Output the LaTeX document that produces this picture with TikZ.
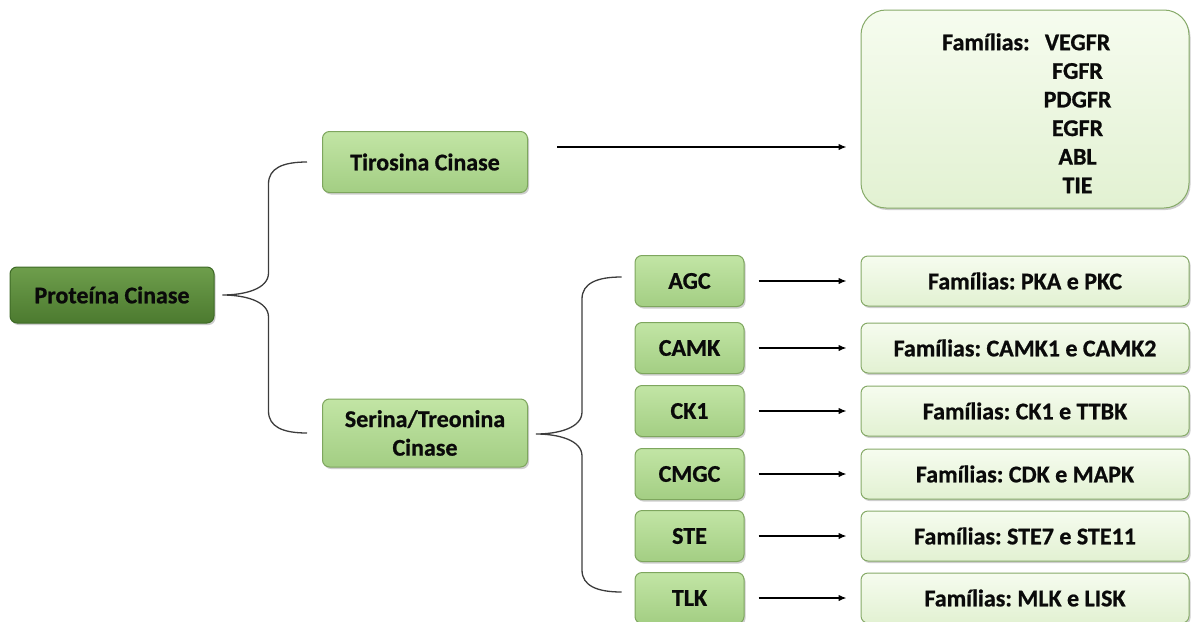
\documentclass[tikz,border=0pt]{standalone}
\usepackage{fontspec}
\setmainfont{Carlito}[BoldFeatures={FakeBold=0.8}]
\usetikzlibrary{shadows,arrows.meta,calc}

\definecolor{rootTop}{HTML}{6E9E4C}
\definecolor{rootMid}{HTML}{5E8E3E}
\definecolor{rootBot}{HTML}{4C7A2F}
\definecolor{rootEdge}{HTML}{3E6A26}
\definecolor{midTop}{HTML}{C2E5A5}
\definecolor{midMid}{HTML}{B4DC96}
\definecolor{midBot}{HTML}{A3CE83}
\definecolor{midEdge}{HTML}{7EA65E}
\definecolor{paleTop}{HTML}{F6FCEF}
\definecolor{paleMid}{HTML}{EEF8E3}
\definecolor{paleBot}{HTML}{E2F1D2}
\definecolor{paleEdge}{HTML}{86AA68}
\definecolor{ink}{HTML}{0A0A0A}
\definecolor{braceInk}{HTML}{3C3C3C}

\newcommand\kbrace[4]{% #1 tip, #2 upper end, #3 lower end, #4 point on the vertical stem
  \draw[brace] (#2) .. controls ($(#2)+(-24,0)$) and ($(#4|-#2)+(0,6)$) .. ($(#4|-#2)+(0,22)$)
    -- ($(#4|-#1)+(0,-22)$) .. controls ($(#4|-#1)+(0,-6)$) and ($(#1)+(22,0)$) .. (#1)
    .. controls ($(#1)+(22,0)$) and ($(#4|-#1)+(0,6)$) .. ($(#4|-#1)+(0,22)$)
    -- ($(#4|-#3)+(0,-22)$) .. controls ($(#4|-#3)+(0,-6)$) and ($(#3)+(-24,0)$) .. (#3);}

\tikzset{
  box/.style={rounded corners=7pt, line width=1pt, inner sep=0pt, text=ink,
    drop shadow={shadow xshift=1.5pt, shadow yshift=-2pt, opacity=0.35, fill=black!55}},
  rootbox/.style={box, draw=rootEdge, top color=rootTop, middle color=rootMid, bottom color=rootBot},
  midbox/.style={box, draw=midEdge, top color=midTop, middle color=midMid, bottom color=midBot},
  palebox/.style={box, draw=paleEdge, top color=paleTop, middle color=paleMid, bottom color=paleBot},
  kindbox/.style={midbox, minimum width=109pt, minimum height=51pt},
  famrow/.style={palebox, minimum width=328pt, minimum height=50pt},
  arr/.style={draw=black, line width=1.3pt, -{Latex[length=8pt,width=6.5pt]}},
  brace/.style={draw=braceInk, line width=1.3pt},
}

\begin{document}
\frenchspacing
\begin{tikzpicture}[x=1pt,y=-1pt, font=\bfseries\fontsize{24}{28.6}\selectfont]
\useasboundingbox (0,0) rectangle (1191,621);

% root and the two main groups
\node[rootbox, minimum width=204pt, minimum height=56pt] (pc) at (112,295) {Proteína Cinase};
\node[midbox, minimum width=205pt, minimum height=61pt] (tc) at (425,162) {Tirosina Cinase};
\node[midbox, minimum width=205pt, minimum height=68pt, align=center] (sc) at (425,433) {Serina/Treonina\\Cinase};

% tyrosine kinase families
\node[palebox, rounded corners=25pt, minimum width=328pt, minimum height=198pt] (ftk) at (1025,109) {};
\node[anchor=north west, inner sep=0pt, text=ink] (ftklist) at (942,30)
  {\begin{tabular}{@{}l@{\hspace{14pt}}c@{}}
    Famílias: & VEGFR\\
              & FGFR\\
              & PDGFR\\
              & EGFR\\
              & ABL\\
              & TIE
   \end{tabular}};

% serine/threonine kinase groups and their families
\foreach \nm/\lab/\fam/\yy in {
    agc/AGC/{Famílias: PKA e PKC}/281,
    camk/CAMK/{Famílias: CAMK1 e CAMK2}/348,
    ckone/CK1/{Famílias: CK1 e TTBK}/411,
    cmgc/CMGC/{Famílias: CDK e MAPK}/474,
    ste/STE/{Famílias: STE7 e STE11}/536,
    tlk/TLK/{Famílias: MLK e LISK}/598}{
  \node[kindbox] (\nm) at (689.5,\yy) {\lab};
  \node[famrow] (f\nm) at (1025,\yy) {\fam};
  \draw[arr, shorten <=14pt, shorten >=14pt] (\nm.east) -- (f\nm.west);
}

% arrow from the tyrosine kinase group to its families
\coordinate (tcout) at ($(tc.east)+(29,-15)$);
\draw[arr, shorten >=14pt] (tcout) -- (tcout -| ftk.west);

% braces
\coordinate (b1tip) at ($(pc.east)+(8,0)$);
\coordinate (b1top) at ($(tc.west)+(-15,0)$);
\coordinate (b1bot) at ($(sc.west)+(-15,0)$);
\coordinate (b1v) at ($(b1tip)+(46,0)$);
\kbrace{b1tip}{b1top}{b1bot}{b1v}

\coordinate (b2tip) at ($(sc.east)+(8,1)$);
\coordinate (b2top) at ($(agc.west)+(-13,-4)$);
\coordinate (b2bot) at ($(tlk.west)+(-13,-6)$);
\coordinate (b2v) at ($(b2tip)+(46,0)$);
\kbrace{b2tip}{b2top}{b2bot}{b2v}
\end{tikzpicture}
\end{document}
